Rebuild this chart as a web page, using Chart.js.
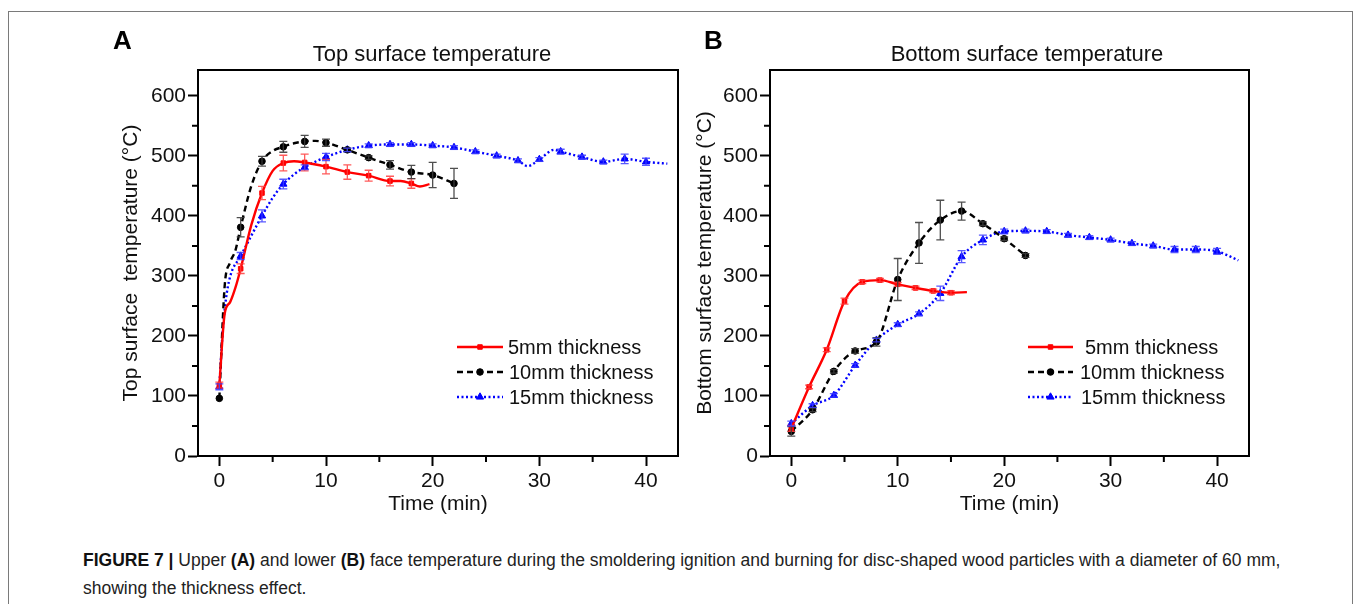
<!DOCTYPE html>
<html><head><meta charset="utf-8">
<script src="https://cdn.jsdelivr.net/npm/chart.js"></script>
<style>
html,body{margin:0;padding:0;background:#fff;width:1356px;height:604px;overflow:hidden;font-family:"Liberation Sans",Arial,sans-serif;}
#frame{position:absolute;left:8px;top:11px;width:1345px;height:640px;border:1.5px solid #7a7a7a;box-sizing:border-box;}
canvas{position:absolute;top:0;}
#cA{left:0;}
#cB{left:580px;}
.lbl{position:absolute;font-weight:bold;font-size:26px;color:#000;line-height:1;}
.ttl{position:absolute;font-size:22px;color:#111;line-height:1;transform:translateX(-50%);white-space:nowrap;}
.leg{position:absolute;font-size:20px;color:#111;line-height:1;white-space:nowrap;}
#cap{position:absolute;left:83px;top:546px;font-size:17.5px;color:#222;line-height:28px;white-space:nowrap;}
#cap b{color:#111;}
</style></head>
<body>
<div id="frame"></div>
<canvas id="cA" width="700" height="530"></canvas>
<canvas id="cB" width="700" height="530"></canvas>
<div class="lbl" style="left:113px;top:27px;">A</div>
<div class="lbl" style="left:704px;top:27px;">B</div>
<div class="ttl" style="left:432px;top:43px;">Top surface temperature</div>
<div class="ttl" style="left:1027px;top:43px;">Bottom surface temperature</div>
<div class="leg" style="left:508px;top:337px;">5mm thickness</div>
<div class="leg" style="left:509px;top:362px;">10mm thickness</div>
<div class="leg" style="left:509px;top:387px;">15mm thickness</div>
<div class="leg" style="left:1085px;top:337px;">5mm thickness</div>
<div class="leg" style="left:1080px;top:362px;">10mm thickness</div>
<div class="leg" style="left:1081px;top:387px;">15mm thickness</div>
<div id="cap"><b>FIGURE 7 |</b> Upper <b>(A)</b> and lower <b>(B)</b> face temperature during the smoldering ignition and burning for disc-shaped wood particles with a diameter of 60 mm,<br>showing the thickness effect.</div>
<script>
// ---- tick labels ----
const xTicks = [0, 10, 20, 30, 40];
const xMinor = [5, 15, 25, 35];
const yTicks = [0, 100, 200, 300, 400, 500, 600];
const yMinor = [50, 150, 250, 350, 450, 550];
const seriesNames = ['5mm thickness', '10mm thickness', '15mm thickness'];

// ---- Panel A: top surface temperature ----
const timeA5  = [0, 0.5, 1, 1.5, 2, 3, 4, 5, 6, 7, 8, 10, 12, 14, 16, 17, 18, 18.8, 19.7];
const tempA5  = [118, 237, 256, 280, 312, 385, 438, 475, 488, 491, 489, 482, 473, 467, 458, 458, 454, 449, 453];
const markA5  = [1, 0, 0, 0, 1, 0, 1, 0, 1, 0, 1, 1, 1, 1, 1, 0, 1, 0, 0];
const errA5   = [5, 0, 0, 0, 8, 0, 11, 0, 13, 0, 14, 12, 12, 9, 8, 0, 8, 0, 0];

const timeA10 = [0, 0.5, 1, 1.5, 2, 3, 4, 5, 6, 7, 8, 9, 10, 12, 14, 16, 18, 20, 22];
const tempA10 = [96, 283, 322, 342, 381, 450, 491, 508, 515, 521, 524, 525, 522, 510, 497, 485, 473, 468, 454];
const markA10 = [1, 0, 0, 0, 1, 0, 1, 0, 1, 0, 1, 0, 1, 1, 1, 1, 1, 1, 1];
const errA10  = [0, 0, 0, 0, 16, 0, 8, 0, 9, 0, 10, 0, 6, 3, 3, 7, 11, 21, 25];

const timeA15 = [0, 0.3, 0.6, 1, 2, 3, 4, 5, 6, 7, 8, 10, 12, 14, 16, 18, 20, 22, 24, 26, 28, 28.9, 30, 31.4, 32, 34, 36, 38, 40, 42];
const tempA15 = [115, 204, 259, 298, 333, 367, 400, 430, 453, 469, 481, 498, 510, 517, 519, 519, 517, 514, 507, 500, 492, 483, 494, 510, 507, 498, 490, 495, 490, 487];
const markA15 = [1, 0, 0, 0, 1, 0, 1, 0, 1, 0, 1, 1, 1, 1, 1, 1, 1, 1, 1, 1, 1, 0, 1, 0, 1, 1, 1, 1, 1, 0];
const errA15  = [5, 0, 0, 0, 6, 0, 10, 0, 8, 0, 4, 6, 3, 3, 3, 3, 3, 3, 3, 3, 3, 0, 3, 0, 4, 3, 3, 8, 6, 0];

// ---- Panel B: bottom surface temperature ----
const timeB5  = [0, 1.67, 3.33, 5, 6.67, 8.33, 10, 11.67, 13.33, 15, 16.5];
const tempB5  = [46, 115, 177, 258, 290, 293, 286, 280, 275, 272, 273];
const markB5  = [1, 1, 1, 1, 1, 1, 1, 1, 1, 1, 0];
const errB5   = [5, 3, 3, 5, 3, 3, 3, 3, 3, 3, 0];

const timeB10 = [0, 2, 4, 6, 8, 10, 12, 14, 16, 18, 20, 22];
const tempB10 = [41, 77, 141, 175, 190, 294, 355, 393, 408, 387, 362, 334];
const markB10 = [1, 1, 1, 1, 1, 1, 1, 1, 1, 1, 1, 1];
const errB10  = [8, 3, 3, 4, 7, 35, 34, 33, 15, 3, 3, 3];

const timeB15 = [0, 2, 4, 6, 8, 10, 12, 14, 16, 18, 20, 22, 24, 26, 28, 30, 32, 34, 36, 38, 40, 42];
const tempB15 = [54, 84, 101, 151, 193, 219, 237, 271, 332, 360, 374, 375, 374, 368, 364, 360, 354, 350, 344, 344, 341, 326];
const markB15 = [1, 1, 1, 1, 1, 1, 1, 1, 1, 1, 1, 1, 1, 1, 1, 1, 1, 1, 1, 1, 1, 0];
const errB15  = [4, 3, 3, 3, 3, 3, 3, 12, 10, 8, 4, 3, 3, 3, 3, 3, 3, 3, 5, 5, 5, 0];

const FONT = 'Liberation Sans';
const STYLES = [
  {color:'#ff0000', dash:[], pointStyle:'rect', radius:3.2, err:'rgba(255,60,60,0.85)'},
  {color:'#000000', dash:[6,4], pointStyle:'circle', radius:3.3, err:'rgba(60,60,60,0.9)'},
  {color:'#0000ff', dash:[2,2.5], pointStyle:'triangle', radius:4.2, err:'rgba(60,60,255,0.85)'}
];

function mkDs(i, xs, ys, marks, errs){
  const s = STYLES[i];
  return {
    label: seriesNames[i],
    data: xs.map((x, k) => ({x: x, y: ys[k]})),
    borderColor: s.color, backgroundColor: s.color,
    borderWidth: 2.4, borderDash: s.dash,
    pointStyle: s.pointStyle,
    pointRadius: marks.map(m => m ? s.radius : 0),
    pointHoverRadius: 0,
    pointBackgroundColor: s.color, pointBorderColor: s.color, pointBorderWidth: 1,
    cubicInterpolationMode: 'monotone', fill: false,
    errors: errs, errColor: s.err
  };
}

const errorBars = {
  id: 'errorBars',
  afterDatasetsDraw(chart){
    const {ctx} = chart; const x = chart.scales.x, y = chart.scales.y;
    chart.data.datasets.forEach(ds => {
      if (!ds.errors) return;
      ctx.save(); ctx.strokeStyle = ds.errColor; ctx.lineWidth = 1.3; ctx.setLineDash([]);
      ds.data.forEach((p, k) => {
        const e = ds.errors[k]; if (!e) return;
        const px = x.getPixelForValue(p.x);
        const y1 = y.getPixelForValue(p.y - e), y2 = y.getPixelForValue(p.y + e);
        ctx.beginPath();
        ctx.moveTo(px, y1); ctx.lineTo(px, y2);
        ctx.moveTo(px - 4, y1); ctx.lineTo(px + 4, y1);
        ctx.moveTo(px - 4, y2); ctx.lineTo(px + 4, y2);
        ctx.stroke();
      });
      ctx.restore();
    });
  }
};

const frame = {
  id: 'frame',
  afterDraw(chart){
    const {ctx, chartArea: a} = chart; const x = chart.scales.x, y = chart.scales.y;
    ctx.save(); ctx.strokeStyle = '#000'; ctx.lineWidth = 2; ctx.setLineDash([]);
    ctx.strokeRect(a.left, a.top, a.right - a.left, a.bottom - a.top);
    ctx.beginPath();
    xMinor.forEach(v => { const px = x.getPixelForValue(v); ctx.moveTo(px, a.bottom); ctx.lineTo(px, a.bottom + 6); });
    yMinor.forEach(v => { const py = y.getPixelForValue(v); ctx.moveTo(a.left, py); ctx.lineTo(a.left - 6, py); });
    ctx.stroke();
    // legend samples
    const lg = chart.options.plugins.legendSamples;
    chart.data.datasets.forEach((ds, i) => {
      const s = STYLES[i]; const ry = lg.rows[i];
      ctx.strokeStyle = s.color; ctx.fillStyle = s.color; ctx.lineWidth = 2.4; ctx.setLineDash(s.dash);
      ctx.beginPath(); ctx.moveTo(lg.x0, ry); ctx.lineTo(lg.x1, ry); ctx.stroke();
      ctx.setLineDash([]); ctx.lineWidth = 1;
      Chart.helpers.drawPoint(ctx, {pointStyle: s.pointStyle, radius: s.radius, rotation: 0, borderWidth: 1}, (lg.x0 + lg.x1) / 2, ry);
    });
    ctx.restore();
  }
};

function mkChart(id, datasets, yTitle, padLeft, padRight, yTitlePad, legend){
  return new Chart(document.getElementById(id), {
    type: 'line',
    data: {datasets: datasets},
    options: {
      responsive: false, animation: false, devicePixelRatio: 1,
      layout: {padding: {left: padLeft, top: 70, right: padRight, bottom: 0}},
      plugins: {legend: {display: false}, tooltip: {enabled: false}, legendSamples: legend},
      scales: {
        x: {
          type: 'linear', min: -2, max: 43,
          afterBuildTicks: s => { s.ticks = xTicks.map(v => ({value: v})); },
          afterFit: s => { s.height = 74; },
          ticks: {color: '#111', font: {family: FONT, size: 21}, padding: 3, maxRotation: 0, autoSkip: false},
          grid: {drawOnChartArea: false, drawTicks: true, tickLength: 10, tickWidth: 2, tickColor: '#000', color: '#000'},
          border: {display: true, color: '#000', width: 2},
          title: {display: true, text: 'Time (min)', color: '#111', font: {family: FONT, size: 21}, padding: {top: 0, bottom: 13}}
        },
        y: {
          type: 'linear', min: 0, max: 643,
          afterBuildTicks: s => { s.ticks = yTicks.map(v => ({value: v})); },
          afterFit: s => { s.width = 90; },
          ticks: {color: '#111', font: {family: FONT, size: 21}, padding: 2, autoSkip: false},
          grid: {drawOnChartArea: false, drawTicks: true, tickLength: 10, tickWidth: 2, tickColor: '#000', color: '#000'},
          border: {display: true, color: '#000', width: 2},
          title: {display: true, text: yTitle, color: '#111', font: {family: FONT, size: 21}, padding: {top: yTitlePad, bottom: 0}}
        }
      }
    },
    plugins: [errorBars, frame]
  });
}

mkChart('cA', [
  mkDs(0, timeA5, tempA5, markA5, errA5),
  mkDs(1, timeA10, tempA10, markA10, errA10),
  mkDs(2, timeA15, tempA15, markA15, errA15)
], 'Top surface  temperature (°C)', 108, 22, 10.4, {x0: 457, x1: 503, rows: [347, 372, 397]});

mkChart('cB', [
  mkDs(0, timeB5, tempB5, markB5, errB5),
  mkDs(1, timeB10, tempB10, markB10, errB10),
  mkDs(2, timeB15, tempB15, markB15, errB15)
], 'Bottom surface temperature (°C)', 100, 31, 12.4, {x0: 448, x1: 493, rows: [347, 372, 397]});
</script>
</body></html>
